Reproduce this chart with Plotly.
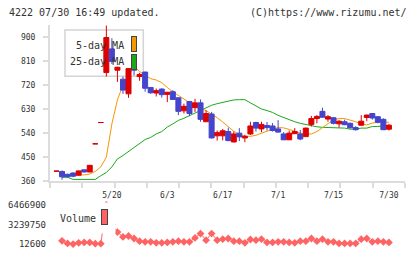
import plotly.graph_objects as go

# ---------------- data ----------------
dates = ["5/2", "5/7", "5/8", "5/9", "5/10", "5/13", "5/14", "5/15", "5/16", "5/17",
         "5/20", "5/21", "5/22", "5/23", "5/24", "5/27", "5/28", "5/29", "5/30", "5/31",
         "6/3", "6/4", "6/5", "6/6", "6/7", "6/10", "6/11", "6/12", "6/13", "6/14",
         "6/17", "6/18", "6/19", "6/20", "6/21", "6/24", "6/25", "6/26", "6/27", "6/28",
         "7/1", "7/2", "7/3", "7/4", "7/5", "7/8", "7/9", "7/10", "7/11", "7/12",
         "7/16", "7/17", "7/18", "7/19", "7/22", "7/23", "7/24", "7/25", "7/26", "7/29",
         "7/30"]

opens = [397, 396, 385, 390, 382, 402, 394, 500, 580, 768,
         857, 777, 743, 688, 786, 753, 770, 712, 691, 706,
         686, 696, 673, 624, 659, 636, 654, 583, 612, 530,
         530, 546, 507, 540, 522, 537, 580, 556, 569, 567,
         556, 537, 515, 538, 537, 527, 573, 595, 622, 593,
         598, 575, 583, 577, 561, 570, 599, 614, 602, 592,
         555]
highs = [397, 399, 388, 393, 399, 403, 420, 500, 580, 945,
         897, 790, 753, 785, 829, 767, 771, 712, 708, 709,
         695, 702, 675, 651, 660, 669, 667, 626, 620, 550,
         556, 561, 546, 559, 534, 583, 583, 583, 582, 578,
         589, 544, 550, 559, 552, 561, 605, 608, 636, 608,
         601, 589, 591, 580, 566, 608, 610, 615, 603, 596,
         575]
lows = [397, 365, 373, 374, 380, 392, 393, 500, 580, 753,
        800, 733, 688, 673, 757, 737, 696, 688, 678, 674,
        657, 665, 608, 614, 604, 620, 583, 582, 520, 512,
        513, 510, 505, 510, 506, 533, 546, 544, 550, 546,
        542, 514, 514, 537, 513, 526, 565, 577, 598, 583,
        573, 561, 570, 558, 550, 567, 585, 591, 577, 552,
        550]
closes = [397, 376, 376, 378, 398, 394, 419, 500, 580, 900,
          810, 788, 702, 783, 777, 761, 709, 692, 700, 685,
          694, 667, 622, 641, 614, 654, 592, 614, 522, 542,
          549, 512, 537, 526, 528, 567, 559, 573, 561, 550,
          544, 515, 540, 546, 518, 559, 595, 603, 600, 602,
          577, 585, 572, 560, 553, 585, 608, 597, 581, 553,
          570]

ma5 = [None, 380, 380, 381, 382, 383, 386, 396, 413, 450,
       575, 665, 722, 756, 790, 772, 760, 745, 740, 730,
       712, 695, 682, 668, 655, 646, 633, 625, 612, 598,
       582, 565, 547, 535, 529, 528, 532, 540, 549, 555,
       561, 560, 554, 547, 540, 537, 537, 546, 561, 573,
       590, 595, 595, 589, 583, 574, 571, 578, 581, 581,
       581]
ma25 = [None, 374, 374, 366, 366, 366, 366, 366, 380, 392,
        413, 443, 456, 471, 486, 502, 516, 524, 537, 546,
        563, 575, 588, 596, 606, 616, 625, 637, 645, 651,
        656, 662, 665, 666, 666, 654, 641, 631, 625, 618,
        607, 599, 590, 583, 577, 572, 567, 564, 562, 561,
        561, 559, 559, 555, 555, 559, 559, 565, 565, 568,
        569]

volume = [None, 545000, 125000, 12600, 222000, 287000, 287000, 80000, 80000, 6466900,
          3260000, 2000000, 1190000, 1350000, 932000, 497000, 384000, 384000, 222000, 222000,
          287000, 384000, 497000, 384000, 384000, 1030000, 1740000, 658000, 1740000, 658000,
          819000, 932000, 497000, 497000, 222000, 771000, 658000, 819000, 287000, 287000,
          384000, 384000, 287000, 222000, 497000, 497000, 932000, 497000, 819000, 384000,
          384000, 125000, 125000, 125000, 125000, 819000, 932000, 384000, 497000, 384000,
          287000]

price_ticks = [360, 450, 540, 630, 720, 810, 900]
date_tick_days = ["5/20", "6/3", "6/17", "7/1", "7/16", "7/30"]
date_tick_labels = ["5/20", "6/3", "6/17", "7/1", "7/15", "7/30"]

# ---------------- style / layout ----------------
RED = "#dd0000"
BLUE = "#4444cc"
ORANGE = "#f39800"
GREEN = "#1aa81a"
VOLC = "#ff6464"
AXC = "#dcdcdc"
TXT = "#333333"
FONT = "DejaVu Sans Mono"

W, H = 420, 259
ML, MR, MT, MB = 50, 15, 25, 6
PW, PH = W - ML - MR, H - MT - MB


def px(x):
    return (x - ML) / PW


def py(y):
    return (H - MB - y) / PH


xs = list(range(len(dates)))
x_range = [-1.17, 62.9]
y_range = [360, 947]
vmin = min(v for v in volume if v is not None)
vmax = max(v for v in volume if v is not None)
vpad = (vmax - vmin) * 0.1
v_range = [vmin - vpad, vmax + vpad]
vol_ticks = [vmin, (vmin + vmax) / 2, vmax]
minor_vals = [x_range[0] + i * (x_range[1] - x_range[0]) / 11 for i in range(12)]
minor_vals[-1] -= 1e-6
minor_vals[0] += 1e-6

fig = go.Figure()

fig.add_trace(go.Scatter(x=xs, y=ma25, mode="lines", line=dict(color=GREEN, width=1),
                         xaxis="x", yaxis="y", hoverinfo="skip"))
fig.add_trace(go.Scatter(x=xs, y=ma5, mode="lines", line=dict(color=ORANGE, width=1),
                         xaxis="x", yaxis="y", hoverinfo="skip"))

fig.add_trace(go.Candlestick(
    x=xs, open=opens, high=highs, low=lows, close=closes,
    increasing=dict(line=dict(color=RED, width=1), fillcolor=RED),
    decreasing=dict(line=dict(color=BLUE, width=1), fillcolor=BLUE),
    whiskerwidth=0, xaxis="x3", yaxis="y3"))

fig.add_trace(go.Scatter(x=xs, y=volume, mode="lines+markers",
                         line=dict(color=VOLC, width=1),
                         marker=dict(symbol="diamond", size=6, color=VOLC),
                         xaxis="x2", yaxis="y2", connectgaps=False, hoverinfo="skip"))

main_bottom = py(184.5)
vol_top = py(205)

fig.update_layout(
    width=W, height=H,
    margin=dict(l=ML, r=MR, t=MT, b=MB),
    paper_bgcolor="white", plot_bgcolor="white",
    showlegend=False,
    boxgap=0.05, boxgroupgap=0.05,
    font=dict(family=FONT, size=8, color=TXT),
    xaxis=dict(domain=[0, 1], range=x_range, anchor="y",
               showline=True, linecolor=AXC, linewidth=2,
               showgrid=False, zeroline=False,
               tickmode="array",
               tickvals=[dates.index(d) for d in date_tick_days],
               ticktext=date_tick_labels,
               ticks="outside", ticklen=5, tickcolor="rgba(0,0,0,0)",
               tickfont=dict(family=FONT, size=8, color=TXT),
               minor=dict(tickmode="array", tickvals=minor_vals, ticks="outside",
                          ticklen=5, tickcolor=AXC, tickwidth=2, showgrid=False)),
    yaxis=dict(domain=[main_bottom, 1], range=y_range, anchor="x",
               showline=True, linecolor=AXC, linewidth=2,
               showgrid=False, zeroline=False,
               tickmode="array", tickvals=price_ticks,
               ticks="outside", ticklen=5, tickcolor=AXC, tickwidth=2,
               ticklabelstandoff=6,
               tickfont=dict(family=FONT, size=8, color=TXT)),
    xaxis3=dict(overlaying="x", range=x_range, visible=False, anchor="y3",
                rangeslider=dict(visible=False)),
    yaxis3=dict(overlaying="y", range=y_range, visible=False, anchor="x3"),
    xaxis2=dict(domain=[0, 1], range=x_range, anchor="y2", visible=False),
    yaxis2=dict(domain=[0, vol_top], range=v_range, anchor="x2",
                showline=False, showgrid=False, zeroline=False,
                tickmode="array", tickvals=vol_ticks,
                ticktext=[f"{int(round(v))}" for v in vol_ticks],
                ticks="", ticklabelstandoff=3,
                tickfont=dict(family=FONT, size=9, color=TXT)),
)

# main legend box (drawn below traces)
fig.add_shape(type="rect", xref="paper", yref="paper", layer="below",
              x0=px(65), x1=px(143.3), y0=py(77.3), y1=py(30),
              fillcolor="white", line=dict(color="#d4d4d4", width=1.5))

ann = []
ann.append(dict(text="4222 07/30 16:49 updated.", xref="paper", yref="paper",
                x=px(7), y=py(12.7), xanchor="left", yanchor="middle", showarrow=False,
                font=dict(family=FONT, size=10, color=TXT)))
ann.append(dict(text="(C)https://www.rizumu.net/", xref="paper", yref="paper",
                x=px(409), y=py(12.7), xanchor="right", yanchor="middle", showarrow=False,
                font=dict(family=FONT, size=10, color=TXT)))
ann.append(dict(text="5-day MA", xref="paper", yref="paper",
                x=px(125.5), y=py(45.8), xanchor="right", yanchor="middle", showarrow=False,
                font=dict(family=FONT, size=10, color=TXT)))
ann.append(dict(text="25-day MA", xref="paper", yref="paper",
                x=px(125.5), y=py(62.5), xanchor="right", yanchor="middle", showarrow=False,
                font=dict(family=FONT, size=10, color=TXT)))
for col, ytop in ((ORANGE, 36.7), (GREEN, 54.3)):
    ann.append(dict(text=" ", xref="paper", yref="paper", x=px(131), y=py(ytop),
                    xanchor="left", yanchor="top", showarrow=False, width=4, height=14,
                    bgcolor=col, bordercolor="#444444", borderwidth=1, borderpad=0,
                    font=dict(size=4)))
# volume legend: white box hides line behind it
ann.append(dict(text="Volume", xref="paper", yref="paper", x=px(57.7), y=py(206),
                xanchor="left", yanchor="top", showarrow=False, width=54, height=28,
                align="left", valign="middle", bgcolor="white", borderpad=1,
                font=dict(family=FONT, size=10, color=TXT)))
ann.append(dict(text=" ", xref="paper", yref="paper", x=px(100.7), y=py(213.3),
                xanchor="left", yanchor="top", showarrow=False, width=5, height=14,
                bgcolor=VOLC, bordercolor="#444444", borderwidth=1, borderpad=0,
                font=dict(size=4)))
fig.update_layout(annotations=ann)

fig.write_html("out.html", config={"displayModeBar": False},
               post_script="document.body.style.margin='0px';")
